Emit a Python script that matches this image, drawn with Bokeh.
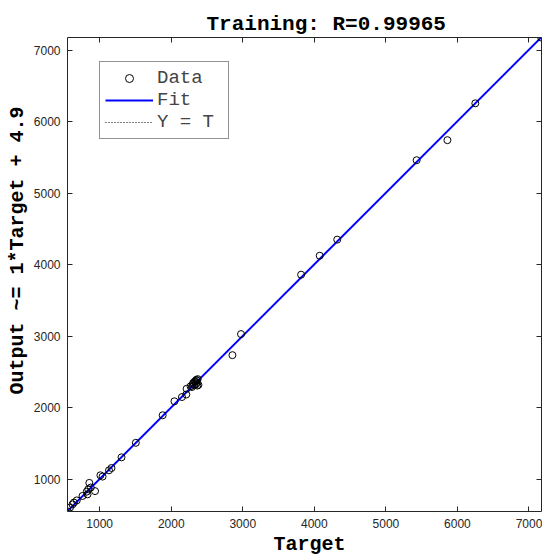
import numpy as np
from bokeh.plotting import figure
from bokeh.models import Range1d, LinearAxis, FixedTicker, Title, Legend, LegendItem
from bokeh.embed import file_html
from bokeh.resources import INLINE

# ---- data ----
target = [7170, 6250, 5860, 5430, 4320, 4075, 3815, 2975, 2855,
          1880, 2045, 2150, 2210, 2215,
          2270, 2290, 2300, 2310, 2320, 2330, 2340, 2345, 2350, 2355, 2360, 2365, 2370, 2380,
          1505, 1305, 1165, 1130, 1040, 1010,
          935, 855, 875, 840, 820, 830, 760, 680, 640, 620, 585, 555]
output = [7175, 6255, 5740, 5460, 4350, 4125, 3860, 3030, 2735,
          1895, 2090, 2150, 2185, 2265,
          2300, 2290, 2330, 2350, 2315, 2370, 2360, 2330, 2390, 2345, 2380, 2310, 2400, 2320,
          1510, 1307, 1158, 1126, 1038, 1056,
          835, 950, 885, 860, 828, 790, 767, 705, 675, 650, 605, 550]
fit_slope = 1.0
fit_intercept = 4.9
r_value = 0.99965
tick_values = [1000, 2000, 3000, 4000, 5000, 6000, 7000]
title_text = "Training: R=%.5f" % r_value
xlabel_text = "Target"
ylabel_text = "Output ~= %g*Target + %g" % (fit_slope, fit_intercept)
legend_labels = ["Data", "Fit", "Y = T"]

lo = min(min(target), min(output))
hi = max(max(target), max(output))

AX = "#262626"
MONO = "Liberation Mono"

p = figure(width=542, height=555, output_backend="svg", toolbar_location=None,
           x_range=Range1d(lo, hi), y_range=Range1d(lo, hi),
           min_border_left=67, min_border_right=1, min_border_top=37, min_border_bottom=43)
p.title.visible = False
p.grid.visible = False
p.outline_line_color = None
p.background_fill_color = "white"
p.border_fill_color = "white"

line_x = [lo, hi]
yt = p.line(line_x, line_x, line_color="black", line_width=1, line_dash="1 2")
fit = p.line(line_x, [fit_slope * v + fit_intercept for v in line_x],
             line_color="#0000ff", line_width=2)
data = p.scatter(target, output, marker="circle", size=7, fill_color=None,
                 line_color="black", line_width=1)

ticker = FixedTicker(ticks=tick_values)
for ax in [p.xaxis[0], p.yaxis[0]]:
    ax.ticker = ticker
    ax.major_tick_in = 5
    ax.major_tick_out = 0
    ax.minor_tick_line_color = None
    ax.axis_line_color = AX
    ax.major_tick_line_color = AX
    ax.major_label_text_font = "Liberation Sans"
    ax.major_label_text_font_size = "12px"
    ax.major_label_text_color = AX
    ax.major_label_standoff = 7

blank = {t: "" for t in tick_values}
for side in ["above", "right"]:
    ax = LinearAxis(ticker=ticker, major_tick_in=5, major_tick_out=0,
                    minor_tick_line_color=None, axis_line_color=AX,
                    major_tick_line_color=AX, major_label_overrides=blank,
                    major_label_text_font_size="1px", major_label_standoff=0)
    p.add_layout(ax, side)

legend = Legend(items=[LegendItem(label=legend_labels[0], renderers=[data]),
                       LegendItem(label=legend_labels[1], renderers=[fit]),
                       LegendItem(label=legend_labels[2], renderers=[yt])],
                location=(32, 372), margin=0, padding=5, spacing=0,
                glyph_width=48, glyph_height=20, label_height=20, label_width=66,
                label_standoff=4,
                label_text_font=MONO, label_text_font_size="19px",
                border_line_color=AX, border_line_width=1,
                background_fill_color="white", background_fill_alpha=1.0)
p.add_layout(legend)

p.add_layout(Title(text=title_text, align="left", offset=139, standoff=4,
                   text_font=MONO, text_font_style="bold", text_font_size="21px",
                   text_color="black"), "above")
p.add_layout(Title(text=xlabel_text, align="left", offset=206, standoff=0,
                   text_font=MONO, text_font_style="bold", text_font_size="20px",
                   text_color="black"), "below")
p.add_layout(Title(text=ylabel_text, align="left", offset=117, standoff=3,
                   text_font=MONO, text_font_style="bold", text_font_size="20px",
                   text_color="black"), "left")

open("out.html", "w").write(file_html(p, INLINE))
